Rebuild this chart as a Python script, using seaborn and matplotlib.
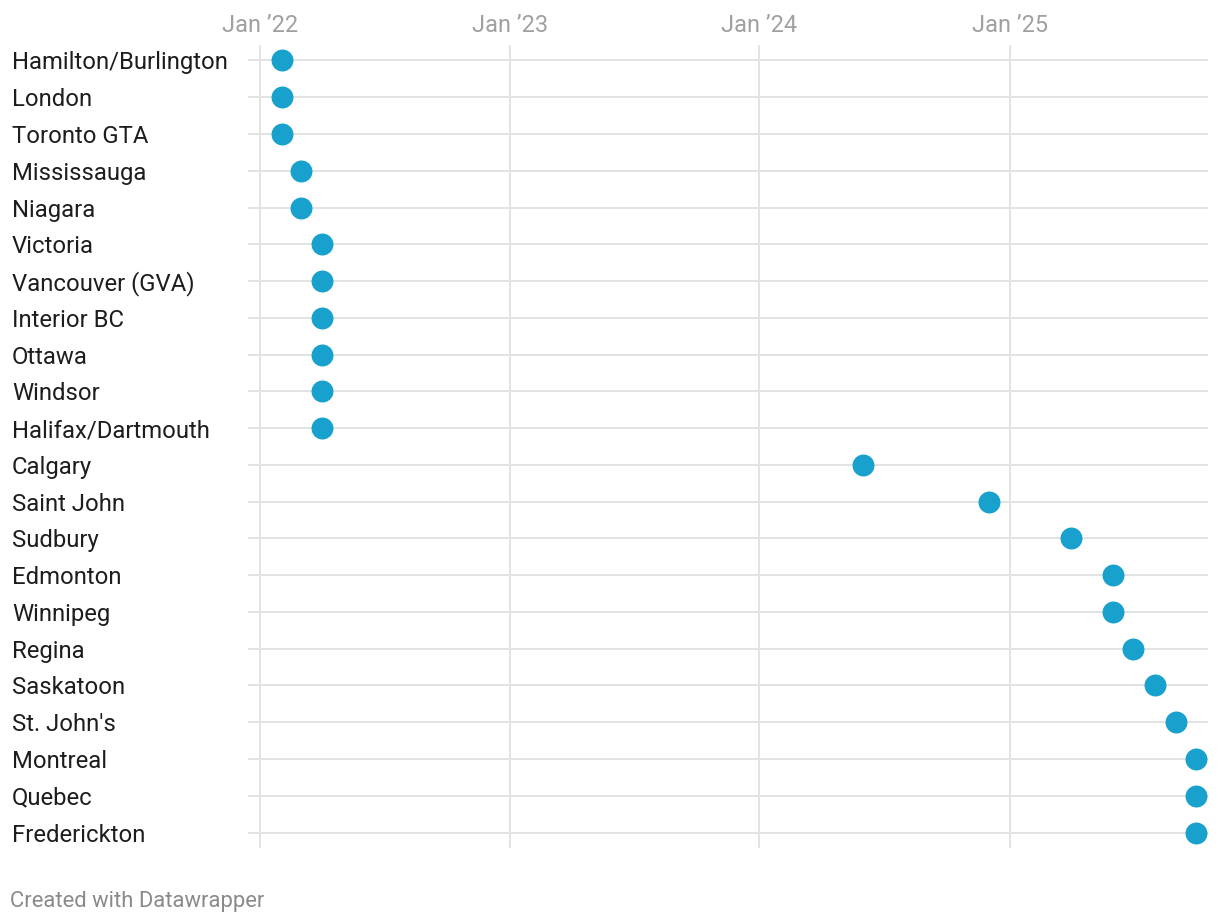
import pandas as pd
import matplotlib
matplotlib.use("Agg")
import matplotlib.pyplot as plt
import matplotlib.dates as mdates
import seaborn as sns

# data
cities = ["Hamilton/Burlington", "London", "Toronto GTA", "Mississauga", "Niagara",
          "Victoria", "Vancouver (GVA)", "Interior BC", "Ottawa", "Windsor",
          "Halifax/Dartmouth", "Calgary", "Saint John", "Sudbury", "Edmonton",
          "Winnipeg", "Regina", "Saskatoon", "St. John's", "Montreal", "Quebec",
          "Frederickton"]
dates = ["2022-02-01", "2022-02-01", "2022-02-01", "2022-03-01", "2022-03-01",
         "2022-04-01", "2022-04-01", "2022-04-01", "2022-04-01", "2022-04-01",
         "2022-04-01", "2024-06-01", "2024-12-01", "2025-04-01", "2025-06-01",
         "2025-06-01", "2025-07-01", "2025-08-01", "2025-09-01", "2025-10-01",
         "2025-10-01", "2025-10-01"]
tick_dates = ["2022-01-01", "2023-01-01", "2024-01-01", "2025-01-01"]
tick_labels = ["Jan \u201922", "Jan \u201923", "Jan \u201924", "Jan \u201925"]

df = pd.DataFrame({"city": cities, "date": pd.to_datetime(dates)})
df["row"] = range(len(df))

sns.set_theme(style="white")
plt.rcParams["font.family"] = ["Roboto", "DejaVu Sans"]

fig = plt.figure(figsize=(12.2, 9.24), dpi=100)
ax = fig.add_axes([248 / 1220, 1 - 848 / 924, 960 / 1220, 803 / 924])

grid_col = "#e3e3e3"
for r in df["row"]:
    ax.axhline(r, color=grid_col, lw=1.4, zorder=0)
for d in tick_dates:
    ax.axvline(mdates.date2num(pd.Timestamp(d)), color=grid_col, lw=1.4, zorder=0)

sns.scatterplot(data=df, x=mdates.date2num(df["date"]), y="row", ax=ax,
                color="#18a1cd", s=250, linewidth=0, zorder=3, legend=False)

ax.set_xlim(mdates.date2num(pd.Timestamp("2021-12-14")),
            mdates.date2num(pd.Timestamp("2025-10-18")))
ax.set_ylim(len(cities) - 1 + 0.42, -0.42)

ax.set_xticks([mdates.date2num(pd.Timestamp(d)) for d in tick_dates])
ax.set_xticklabels(tick_labels)
ax.xaxis.tick_top()
ax.tick_params(axis="x", length=0, pad=6, labelsize=16.9, labelcolor="#a0a0a0")

ax.set_yticks(df["row"])
ax.set_yticklabels(cities)
ax.tick_params(axis="y", length=0, pad=170, labelsize=17.2, labelcolor="#1d1d1d")
for lab in ax.get_yticklabels():
    lab.set_ha("left")

ax.set_xlabel("")
ax.set_ylabel("")
for sp in ax.spines.values():
    sp.set_visible(False)

fig.text(10 / 1220, 1 - 901 / 924, "Created with Datawrapper", fontsize=15.8,
         color="#8a8a8a", va="center", ha="left")

fig.savefig("out.png", dpi=100)
